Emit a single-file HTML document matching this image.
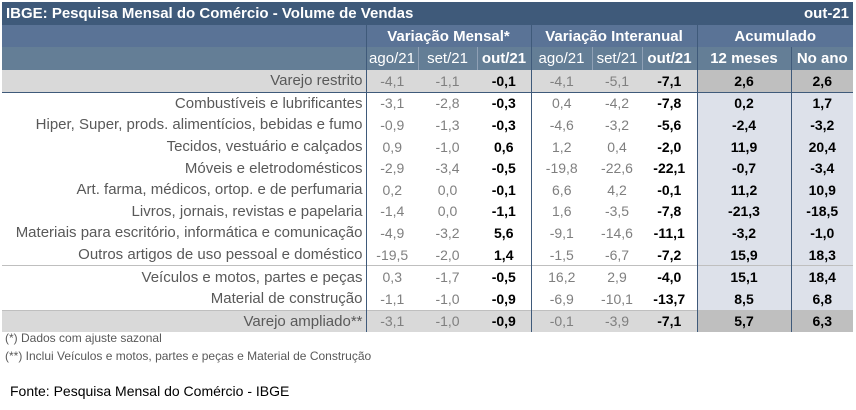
<!DOCTYPE html>
<html><head><meta charset="utf-8"><style>
body{margin:0;width:856px;height:410px;background:#fff;font-family:"Liberation Sans Narrow","Liberation Sans",sans-serif;overflow:hidden;position:relative}
table{position:absolute;left:2px;top:2px;border-collapse:collapse;table-layout:fixed;font-size:14px}
td{padding:0;height:21.6px;text-align:center;color:#7f7f7f;white-space:nowrap;overflow:hidden}
td.l{text-align:right;padding-right:3px;color:#595959;border-right:1.5px solid #3f5a7a;font-size:15px}
td.b{font-weight:bold;color:#000}
td.gr{border-right:1.5px solid #3f5a7a}
td.a{background:#dde1ea;font-weight:bold;color:#000}
td.a1{border-left:1.5px solid #3f5a7a;border-right:1.5px solid #3f5a7a}
tr.g td{background:#d9d9d9}
tr.g td.a{background:#bfbfbf}
tr.t td{background:#3f5a7a;color:#fff;font-weight:bold;font-size:15px;height:23px}
tr.h1 td{background:#5a7396;color:#fff;font-weight:bold;font-size:15px;height:22px}
tr.h2 td{background:#647e96;color:#fff;font-size:15px;height:23px}
tr.h2 td.hb{font-weight:bold}
tr.sep td{border-top:1px solid #bfbfbf}
.fn{position:absolute;left:5px;font-size:12px;color:#595959}
</style></head><body>
<table>
<colgroup><col style="width:364px"><col style="width:52px"><col style="width:59px"><col style="width:54px"><col style="width:61px"><col style="width:50px"><col style="width:55px"><col style="width:94px"><col style="width:62px"></colgroup>
<tr class="t"><td colspan="7" style="text-align:left;padding-left:4px">IBGE: Pesquisa Mensal do Comércio - Volume de Vendas</td><td colspan="2" style="text-align:right;padding-right:4px">out-21</td></tr>
<tr class="h1"><td style="border-right:1.5px solid #3f5a7a"></td><td colspan="3" style="border-right:1.5px solid #3f5a7a">Variação Mensal*</td><td colspan="3" style="border-right:1.5px solid #3f5a7a">Variação Interanual</td><td colspan="2">Acumulado</td></tr>
<tr class="h2"><td style="border-right:1.5px solid #3f5a7a"></td><td style="border-right:1px solid #8fa0b5">ago/21</td><td style="border-right:1px solid #8fa0b5">set/21</td><td class="hb" style="border-right:1.5px solid #3f5a7a">out/21</td><td style="border-right:1px solid #8fa0b5">ago/21</td><td style="border-right:1px solid #8fa0b5">set/21</td><td class="hb" style="border-right:1.5px solid #3f5a7a">out/21</td><td class="hb" style="border-right:1.5px solid #3f5a7a">12 meses</td><td class="hb">No ano</td></tr>
<tbody id="body"></tbody>
</table>
<div class="fn" style="top:331px">(*) Dados com ajuste sazonal</div>
<div class="fn" style="top:349px">(**) Inclui Veículos e motos, partes e peças e Material de Construção</div>
<div style="position:absolute;left:10px;top:383px;font-size:14px;color:#000">Fonte: Pesquisa Mensal do Comércio - IBGE</div>
<script>
const labels=["Varejo restrito","Combustíveis e lubrificantes","Hiper, Super, prods. alimentícios, bebidas e fumo","Tecidos, vestuário e calçados","Móveis e eletrodomésticos","Art. farma, médicos, ortop. e de perfumaria","Livros, jornais, revistas e papelaria","Materiais para escritório, informática e comunicação","Outros artigos de uso pessoal e doméstico","Veículos e motos, partes e peças","Material de construção","Varejo ampliado**"];
const mAgo=["-4,1","-3,1","-0,9","0,9","-2,9","0,2","-1,4","-4,9","-19,5","0,3","-1,1","-3,1"];
const mSet=["-1,1","-2,8","-1,3","-1,0","-3,4","0,0","0,0","-3,2","-2,0","-1,7","-1,0","-1,0"];
const mOut=["-0,1","-0,3","-0,3","0,6","-0,5","-0,1","-1,1","5,6","1,4","-0,5","-0,9","-0,9"];
const iAgo=["-4,1","0,4","-4,6","1,2","-19,8","6,6","1,6","-9,1","-1,5","16,2","-6,9","-0,1"];
const iSet=["-5,1","-4,2","-3,2","0,4","-22,6","4,2","-3,5","-14,6","-6,7","2,9","-10,1","-3,9"];
const iOut=["-7,1","-7,8","-5,6","-2,0","-22,1","-0,1","-7,8","-11,1","-7,2","-4,0","-13,7","-7,1"];
const acc12=["2,6","0,2","-2,4","11,9","-0,7","11,2","-21,3","-3,2","15,9","15,1","8,5","5,7"];
const accAno=["2,6","1,7","-3,2","20,4","-3,4","10,9","-18,5","-1,0","18,3","18,4","6,8","6,3"];
const body=document.getElementById('body');
labels.forEach((lab,i)=>{
  const tr=document.createElement('tr');
  
  
  if(i===0||i===labels.length-1) tr.className='g';
  if(i===1) tr.style.borderTop='1.5px solid #3f5a7a';
  if(i===9||i===11) tr.className+=' sep';
  const cells=[[lab,'l'],[mAgo[i],''],[mSet[i],''],[mOut[i],'b gr'],[iAgo[i],''],[iSet[i],''],[iOut[i],'b gr'],[acc12[i],'a a1'],[accAno[i],'a']];
  const names=['label','mensal-ago','mensal-set','mensal-out','interanual-ago','interanual-set','interanual-out','acumulado-12m','acumulado-ano'];
  cells.forEach((c,j)=>{
    const td=document.createElement('td');
    td.textContent=c[0];
    if(c[1]) td.className=c[1];
    
    
    tr.appendChild(td);
  });
  body.appendChild(tr);
});
</script>
</body></html>
